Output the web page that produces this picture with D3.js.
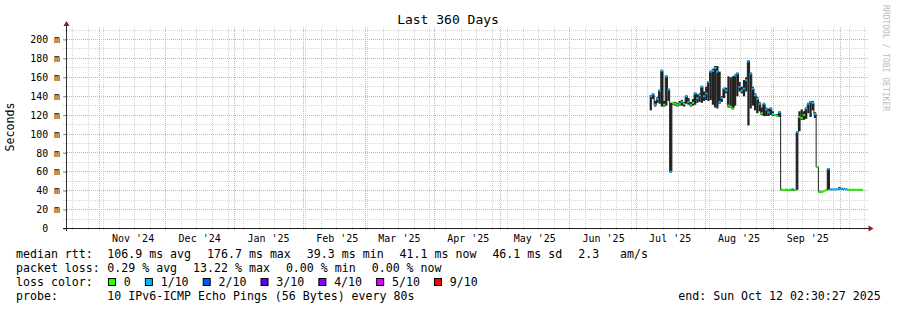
<!DOCTYPE html>
<html>
<head>
<meta charset="utf-8">
<script src="https://cdn.jsdelivr.net/npm/d3@7"></script>
<style>
  body { margin: 0; background: #fff; }
  text { font-family: "DejaVu Sans Mono", monospace; white-space: pre; fill: #000; }
</style>
</head>
<body>
<div id="chart"></div>
<script>
// Donnees : une valeur par jour a partir du 7 juillet 2025
const firstDay = Date.UTC(2025, 6, 7);
const medianMs = [
  140, 142, 131, 137, 146, 167, 131, 161, 147, 60, 133, 132,
  131, 132, 134, 132, 140, 134, 131, 133, 143, 138, 141, 150,
  140, 143, 155, 166, 167, 170, 166, 134, 138, 148, 146, 130,
  129, 127, 162, 164, 150, 146, 148, 157, 177, 164, 148, 141,
  137, 132, 122, 132, 126, 123, 127, 121, 120, 119, 123, 41,
  40.5, 41, 40.5, 41, 41.5, 40.5, 102, 118, 117, 120, 127, 132,
  134, 133, 121, 65, 39, 38.5, 39.5, 40.5, 63, 41.3, 41.3, 41.3,
  41.3, 42, 42, 42, 41.5, 41, 41, 41, 41, 41, 41, 41
];
const smokeLoMs = [
  125, 137, 129, 133, 132, 129, 129, 130, 135, 59, 131, 130,
  129, 130, 130, 129, 132, 131, 129, 130, 131, 133, 134, 133,
  135, 136, 135, 136, 131, 128, 127, 132, 134, 138, 143, 128,
  128, 126, 130, 140, 145, 143, 140, 145, 109, 127, 130, 125,
  122, 124, 120, 119, 119, 119, 120, 119, 119, 118, 118, 40,
  40, 40, 40, 40, 40, 40, 41, 103, 115, 115, 116, 122,
  118, 125, 117, 64, 38, 38, 39, 40, 41, 41, 41, 41,
  41, 41, 41, 41, 41, 40.5, 40.5, 40.5, 40.5, 40.5, 40.5, 40.5
];
const smokeHiMs = [
  141, 143, 135, 139, 147, 168, 135, 162, 148, 133, 134, 134,
  133, 135, 136, 134, 141, 138, 134, 137, 144, 142, 143, 151,
  145, 150, 156, 167, 169, 172, 172, 166, 140, 149, 149, 161,
  160, 161, 163, 165, 155, 150, 157, 160, 178, 165, 150, 143,
  139, 134, 128, 133, 128, 127, 128, 124, 121, 121, 124, 42,
  41, 42, 41, 42, 42, 41, 103, 124, 126, 124, 128, 133,
  135, 135, 123, 66, 40, 39, 40, 41, 64, 42, 42, 42,
  42, 44, 43, 42.5, 42, 41.5, 41.5, 41.5, 41.5, 41.5, 41.5, 41.5
];
const lossTenths = [
  1, 1, 1, 1, 1, 1, 0, 1, 1, 1, 0, 0,
  0, 0, 1, 0, 1, 1, 0, 0, 1, 1, 1, 1,
  1, 1, 1, 1, 1, 1, 1, 1, 1, 1, 1, 0,
  0, 0, 1, 1, 1, 1, 1, 1, 1, 1, 1, 1,
  1, 1, 0, 1, 1, 1, 1, 0, 1, 0, 1, 0,
  0, 0, 0, 0, 1, 0, 1, 0, 0, 0, 1, 1,
  1, 1, 1, 0, 0, 0, 0, 0, 1, 1, 1, 1,
  1, 1, 1, 1, 1, 0, 0, 0, 0, 0, 0, 0
];

// Legende
const lossLabels = ["0", "1/10", "2/10", "3/10", "4/10", "5/10", "9/10"];
const lossSteps = [0, 1, 2, 3, 4, 5, 9];
const lossColors = ["#26ff00", "#00b8ff", "#0059ff", "#5e00ff", "#7e00ff", "#dd00ff", "#ff0000"];
const rttStats = ["106.9 ms avg", "176.7 ms max", "39.3 ms min", "41.1 ms now", "46.1 ms sd", "2.3   am/s"];
const lossStats = ["0.29 % avg", "13.22 % max", "0.00 % min", "0.00 % now"];
const yTicks = [0, 20, 40, 60, 80, 100, 120, 140, 160, 180, 200];

const W = 897, H = 310;
const plotTop = 27, axisY = 228.5, axisX = 66.5;

const svg = d3.select("#chart").append("svg")
    .attr("width", W).attr("height", H)
    .attr("xml:space", "preserve");

const tStart = new Date(Date.UTC(2024, 9, 17, 2, 30, 27));
const tEnd = new Date(Date.UTC(2025, 9, 12, 2, 30, 27));

const x = d3.scaleUtc().domain([tStart, tEnd]).range([66.24, 865.2]);
const y = d3.scaleLinear().domain([0, 200]).range([228.5, 39.5]);

const px = v => Math.floor(v) + 0.5;
const minorCol = "#d6d6d6", majorCol = "#efa0a0";

// Grille
const grid = svg.append("g");
d3.range(10, 211, 10).filter(v => v % 20 !== 0).forEach(v => {
  grid.append("line").attr("x1", 63).attr("x2", 868)
    .attr("y1", px(y(v))).attr("y2", px(y(v)))
    .attr("stroke", minorCol).attr("stroke-dasharray", "1,1");
});
d3.utcSunday.range(tStart, tEnd).forEach(t => {
  grid.append("line").attr("x1", px(x(t))).attr("x2", px(x(t)))
    .attr("y1", plotTop).attr("y2", 231)
    .attr("stroke", minorCol).attr("stroke-dasharray", "1,1");
});
yTicks.filter(v => v > 0).forEach(v => {
  grid.append("line").attr("x1", 63).attr("x2", 868)
    .attr("y1", px(y(v))).attr("y2", px(y(v)))
    .attr("stroke", majorCol).attr("stroke-dasharray", "1,1");
});
d3.utcMonth.range(tStart, tEnd).forEach(t => {
  grid.append("line").attr("x1", px(x(t))).attr("x2", px(x(t)))
    .attr("y1", plotTop).attr("y2", 231)
    .attr("stroke", majorCol).attr("stroke-dasharray", "1,1");
});

// Donnees
const days = medianMs.map((m, i) => {
  const t0 = new Date(firstDay + i * 864e5);
  const t1 = new Date(Math.min(firstDay + (i + 1) * 864e5, +tEnd));
  return { t0, t1, med: m, lo: smokeLoMs[i], hi: smokeHiMs[i], loss: lossTenths[i] };
});

svg.append("g").selectAll("rect")
  .data(days)
  .join("rect")
  .attr("x", d => x(d.t0))
  .attr("width", d => x(d.t1) - x(d.t0))
  .attr("y", d => y(d.hi))
  .attr("height", d => Math.max(1, y(d.lo) - y(d.hi)))
  .attr("fill", "#222");

const stepLine = d3.line()
  .x(d => x(d.t0))
  .y(d => y(d.med))
  .curve(d3.curveStepAfter);
svg.append("path")
  .attr("d", stepLine(days.concat([{ t0: days[days.length - 1].t1, med: days[days.length - 1].med }])))
  .attr("fill", "none").attr("stroke", "#222").attr("stroke-width", 1);

svg.append("g").selectAll("line")
  .data(days)
  .join("line")
  .attr("x1", d => x(d.t0)).attr("x2", d => x(d.t1))
  .attr("y1", d => y(d.med)).attr("y2", d => y(d.med))
  .attr("stroke", d => lossColors[lossSteps.indexOf(d.loss)])
  .attr("stroke-width", 2);

// Axes
const yAxis = svg.append("g")
  .attr("transform", `translate(${axisX},0)`)
  .call(d3.axisLeft(y).tickValues(yTicks).tickSize(3)
    .tickFormat(v => (v === 0 ? "0  " : v + " m").padStart(5)));
yAxis.select(".domain").remove();
yAxis.selectAll(".tick line").attr("stroke", "#888");
yAxis.selectAll("text")
  .attr("x", -36.2).attr("text-anchor", "start")
  .style("font-family", "'DejaVu Sans Mono', monospace")
  .style("font-size", "9.9px").style("fill", "#000");

const monthMids = d3.utcMonth.range(d3.utcMonth.floor(tStart), tEnd)
  .map(m => d3.utcDay.offset(m, 15))
  .filter(t => t >= tStart && t <= tEnd);
const xAxis = svg.append("g")
  .attr("transform", `translate(0,${axisY})`)
  .call(d3.axisBottom(x).tickValues(monthMids).tickSize(0).tickPadding(5.9)
    .tickFormat(d3.utcFormat("%b '%y")));
xAxis.select(".domain").remove();
xAxis.selectAll("text")
  .style("font-family", "'DejaVu Sans Mono', monospace")
  .style("font-size", "10px").style("fill", "#000");

svg.append("line").attr("x1", axisX).attr("x2", axisX).attr("y1", 231).attr("y2", 24)
  .attr("stroke", "#303030");
svg.append("line").attr("x1", 63).attr("x2", 869).attr("y1", axisY).attr("y2", axisY)
  .attr("stroke", "#202020");
svg.append("polygon").attr("points", "63.5,26 69.5,26 66.5,21").attr("fill", "#8c1e1e");
svg.append("polygon").attr("points", "868.5,225.5 868.5,231.5 873.5,228.5").attr("fill", "#8c1e1e");

// Textes
svg.append("text").attr("x", 448).attr("y", 24).attr("text-anchor", "middle")
  .style("font-size", "13px").text("Last 360 Days");
svg.append("text").attr("transform", "translate(14,127) rotate(-90)")
  .attr("text-anchor", "middle").style("font-size", "11.6px").text("Seconds");
svg.append("text").attr("transform", "translate(883,5) rotate(90)")
  .style("font-size", "8px").style("fill", "#bbb").text("RRDTOOL / TOBI OETIKER");

// Legende : chaque item est separe du suivant par un espace fixe
const legendFont = "11.6px", legendGap = 16, valueX = 107.3;
const rows = [258, 272, 286, 300];
const addText = (tx, ty, s) => svg.append("text").attr("x", tx).attr("y", ty)
  .style("font-size", legendFont).text(s);
const addItems = (items, ty) => {
  let lx = valueX;
  items.forEach(s => {
    const t = addText(lx, ty, s);
    lx += t.node().getComputedTextLength() + legendGap;
  });
};

addText(16, rows[0], "median rtt:");
addItems(rttStats, rows[0]);
addText(16, rows[1], "packet loss:");
addItems(lossStats, rows[1]);
addText(16, rows[2], "loss color:");
let sx = 108.5;
lossLabels.forEach((lab, i) => {
  svg.append("rect").attr("x", sx).attr("y", 278.5).attr("width", 7).attr("height", 7)
    .attr("fill", lossColors[i]).attr("stroke", "#000").attr("stroke-width", 1);
  const t = addText(sx + 15.3, rows[2], lab);
  sx = sx + 15.3 + t.node().getComputedTextLength() + 14.6;
});
addText(16, rows[3], "probe:");
addText(valueX, rows[3], "10 IPv6-ICMP Echo Pings (56 Bytes) every 80s");
svg.append("text").attr("x", 880.7).attr("y", rows[3]).attr("text-anchor", "end")
  .style("font-size", legendFont).text("end: Sun Oct 12 02:30:27 2025");
</script>
</body>
</html>
